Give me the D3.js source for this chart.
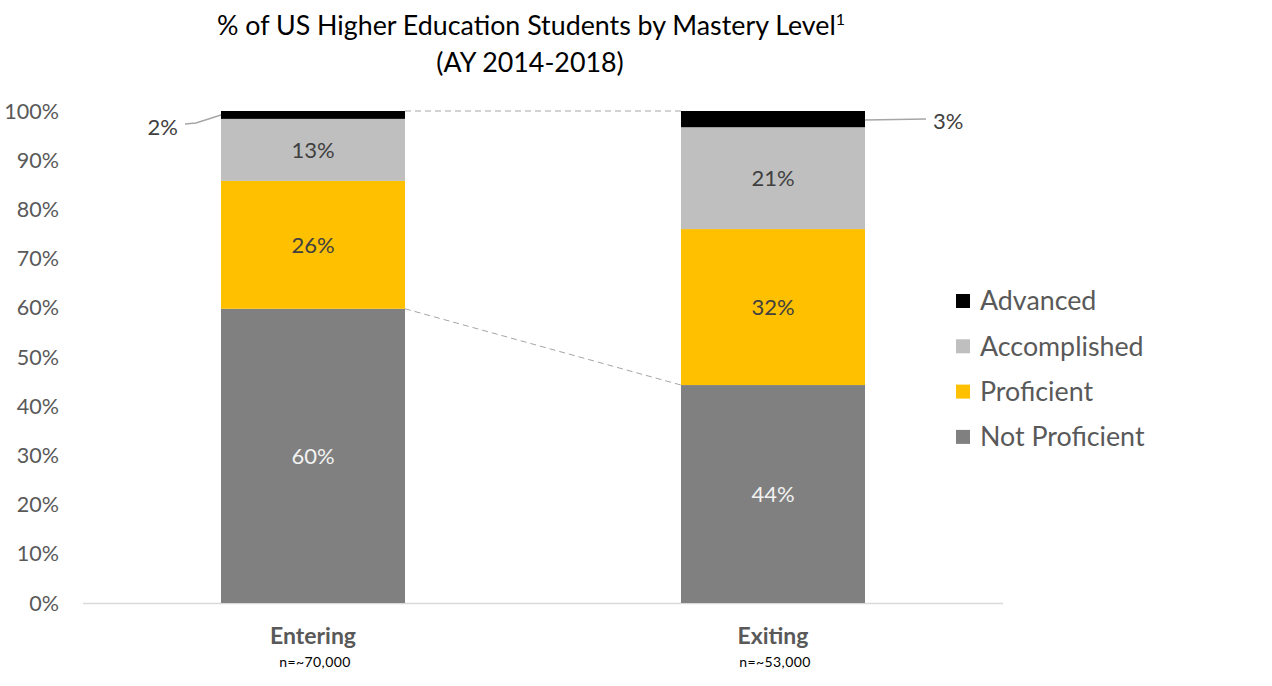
<!DOCTYPE html>
<html><head><meta charset="utf-8">
<script src="https://cdn.jsdelivr.net/npm/d3@7"></script>
<style>body{margin:0;background:#fff}svg{display:block}text{font-family:Lato,"Open Sans",sans-serif}</style>
</head><body><svg id="c" width="1272" height="686"></svg>
<script>
const categories = ["Entering", "Exiting"];
const sampleSizes = ["n=~70,000", "n=~53,000"];
const seriesNames = ["Not Proficient", "Proficient", "Accomplished", "Advanced"];
const notProficient = [59.8, 44.3];
const proficient = [26.0, 31.7];
const accomplished = [12.6, 20.7];
const advanced = [1.6, 3.3];
const yTicks = [0,10,20,30,40,50,60,70,80,90,100];
const titleLine1 = "% of US Higher Education Students by Mastery Level";
const titleLine2 = "(AY 2014-2018)";

const colors = {"Not Proficient":"#808080","Proficient":"#FFC000","Accomplished":"#BFBFBF","Advanced":"#000000"};
const seriesValues = [notProficient, proficient, accomplished, advanced];
const rows = categories.map((c,i)=>{const o={cat:c}; seriesNames.forEach((s,j)=>o[s]=seriesValues[j][i]); return o;});
const stack = d3.stack().keys(seriesNames)(rows);

const svg = d3.select("#c");
const x = d3.scaleBand().domain(categories).range([83,1003]).paddingInner(0.6).paddingOuter(0.3);
const y = d3.scaleLinear().domain([0,100]).range([603,111]);

// title
const t = svg.append("text").attr("x",531).attr("y",35).attr("text-anchor","middle").attr("font-size",26.8).attr("fill","#000");
t.append("tspan").text(titleLine1);
t.append("tspan").text("1").attr("font-size",16).attr("dy",-10);
svg.append("text").attr("x",530).attr("y",72).attr("text-anchor","middle").attr("font-size",26.8).attr("fill","#000").text(titleLine2);

// y axis labels
svg.append("g").selectAll("text").data(yTicks).join("text")
  .attr("x",59).attr("y",d=>y(d)).attr("dy","0.35em").attr("text-anchor","end")
  .attr("font-size",21.5).attr("fill","#595959").text(d=>d+"%");

// baseline
svg.append("line").attr("x1",83).attr("x2",1003).attr("y1",y(0)+0.5).attr("y2",y(0)+0.5).attr("stroke","#D9D9D9").attr("stroke-width",1.5);

// bars
const g = svg.append("g");
stack.forEach(layer=>{
  g.selectAll(null).data(layer).join("rect")
   .attr("x",d=>x(d.data.cat)).attr("width",x.bandwidth())
   .attr("y",d=>y(d[1])).attr("height",d=>y(d[0])-y(d[1]))
   .attr("fill",colors[layer.key]);
});

// connector dashed lines
const e = categories[0], xcat = categories[1];
const conn = [
  [x(e)+x.bandwidth(), y(100), x(xcat), y(100)],
  [x(e)+x.bandwidth(), y(notProficient[0]), x(xcat), y(notProficient[1])]
];
svg.append("g").selectAll("line").data(conn).join("line")
  .attr("x1",d=>d[0]).attr("y1",d=>d[1]).attr("x2",d=>d[2]).attr("y2",d=>d[3])
  .attr("stroke","#A6A6A6").attr("stroke-width",1).attr("stroke-dasharray","6,4");

// inner labels
stack.forEach(layer=>{
  if(layer.key==="Advanced") return;
  g.selectAll(null).data(layer).join("text")
   .attr("x",d=>x(d.data.cat)+x.bandwidth()/2).attr("y",d=>y((d[0]+d[1])/2)).attr("dy","0.35em")
   .attr("text-anchor","middle").attr("font-size",22)
   .attr("fill",layer.key==="Not Proficient"?"#F2F2F2":"#404040")
   .text(d=>Math.round(d[1]-d[0])+"%");
});

// advanced callouts
const advMid0 = y(100-advanced[0]/2);
svg.append("polyline").attr("points",[[185,y(100)+13],[196,y(100)+12],[x(e),advMid0]].map(p=>p.join(",")).join(" "))
  .attr("fill","none").attr("stroke","#A6A6A6").attr("stroke-width",1.5);
svg.append("text").attr("x",178).attr("y",y(100)+16).attr("dy","0.35em").attr("text-anchor","end").attr("font-size",22).attr("fill","#404040").text(Math.round(advanced[0])+"%");
const advMid1 = y(100-advanced[1]/2);
svg.append("line").attr("x1",x(xcat)+x.bandwidth()).attr("y1",advMid1+1).attr("x2",926).attr("y2",advMid1)
  .attr("stroke","#A6A6A6").attr("stroke-width",1.5);
svg.append("text").attr("x",933).attr("y",advMid1+2).attr("dy","0.35em").attr("font-size",22).attr("fill","#404040").text(Math.round(advanced[1])+"%");

// x labels
svg.append("g").selectAll("text").data(categories).join("text")
  .attr("x",d=>x(d)+x.bandwidth()/2).attr("y",644).attr("text-anchor","middle")
  .attr("font-size",23).attr("font-weight","bold").attr("fill","#595959").text(d=>d);
svg.append("g").selectAll("text").data(sampleSizes).join("text")
  .attr("x",(d,i)=>x(categories[i])+x.bandwidth()/2+2).attr("y",667).attr("text-anchor","middle")
  .attr("font-size",14).attr("letter-spacing",0.4).attr("fill","#000").text(d=>d);

// legend
const legendOrder = seriesNames.slice().reverse();
const lg = svg.append("g").selectAll("g").data(legendOrder).join("g")
  .attr("transform",(d,i)=>`translate(956,${301+i*45.3})`);
lg.append("rect").attr("x",0).attr("y",-7).attr("width",14).attr("height",14).attr("fill",d=>colors[d]);
lg.append("text").attr("x",24).attr("y",0).attr("dy","0.35em").attr("font-size",26.8).attr("fill","#595959").text(d=>d);
</script></body></html>
